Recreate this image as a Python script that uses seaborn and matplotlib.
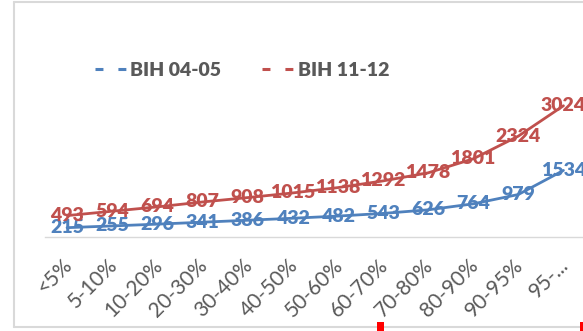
import matplotlib
matplotlib.use("Agg")
import matplotlib.pyplot as plt
import matplotlib.transforms as mtransforms
import seaborn as sns
import pandas as pd
from matplotlib.lines import Line2D
from matplotlib.patches import Rectangle

categories = ["<5%", "5-10%", "10-20%", "20-30%", "30-40%", "40-50%", "50-60%",
              "60-70%", "70-80%", "80-90%", "90-95%", "95-..."]
bih_04_05 = [215, 255, 296, 341, 386, 432, 482, 543, 626, 764, 979, 1534]
bih_11_12 = [493, 594, 694, 807, 908, 1015, 1138, 1292, 1478, 1801, 2324, 3024]
series_names = ["BIH 04-05", "BIH 11-12"]
colors = ["#4F81BD", "#C0504D"]

sns.set_theme(style="white")
plt.rcParams["font.family"] = ["Lato", "DejaVu Sans"]

df = pd.DataFrame({
    "cat": categories * 2,
    "x": list(range(len(categories))) * 2,
    "value": bih_04_05 + bih_11_12,
    "series": [series_names[0]] * len(categories) + [series_names[1]] * len(categories),
})

W, H = 583, 331
fig = plt.figure(figsize=(W / 100, H / 100), dpi=100)
# plot area in pixels: x from 44.5 to 586, baseline at y=237
left, right = 44.5, 586.0
base_y, top_y = 237.0, 63.4
ax = fig.add_axes([left / W, (H - base_y) / H, (right - left) / W, (base_y - top_y) / H])

sns.lineplot(data=df, x="x", y="value", hue="series", palette=colors,
             linewidth=2.0, legend=False, ax=ax, sort=False)

for vals, c in zip([bih_04_05, bih_11_12], colors):
    for i, v in enumerate(vals):
        ax.text(i, v, str(v), color=c, fontsize=14, fontweight="heavy",
                ha="center", va="center", zorder=5)

ax.set_xlim(-0.5, len(categories) - 0.5)
ax.set_ylim(0, 4000)
ax.set_yticks([])
ax.set_xticks(range(len(categories)))
ax.set_xticklabels(categories, rotation=45, ha="right", rotation_mode="anchor",
                   color="#595959", fontsize=15)
ax.tick_params(axis="x", length=0, pad=13)
shift = mtransforms.ScaledTranslation(-5 / 100, 0, fig.dpi_scale_trans)
for lab in ax.get_xticklabels():
    lab.set_transform(lab.get_transform() + shift)
ax.set_xlabel("")
ax.set_ylabel("")
for s in ["top", "right", "left"]:
    ax.spines[s].set_visible(False)
ax.spines["bottom"].set_color("#D9D9D9")
ax.spines["bottom"].set_linewidth(1.0)
ax.patch.set_alpha(0)

# legend with dashed keys
handles = [Line2D([0], [0], color=c, lw=2.2, dashes=(2.6, 4.9)) for c in colors]
fig.legend(handles, series_names, loc="center left", bbox_to_anchor=(77 / W, 1 - 70 / H),
           ncol=2, frameon=False, handlelength=1.6, handletextpad=0.25, columnspacing=2.1,
           prop={"family": "Lato", "weight": "heavy", "size": 14}, labelcolor="#595959")

# chart area border
border = dict(transform=fig.transFigure, color="#D9D9D9", lw=1.5)
fig.add_artist(Line2D([14 / W, 14 / W], [1 - 2 / H, 1 - 327 / H], **border))
fig.add_artist(Line2D([14 / W, 1.0], [1 - 2 / H, 1 - 2 / H], **border))
fig.add_artist(Line2D([14 / W, 1.0], [1 - 327 / H, 1 - 327 / H], **border))
# selection handles
for hx in [377, 580]:
    fig.add_artist(Rectangle((hx / W, 0), 7 / W, 9 / H, transform=fig.transFigure,
                             facecolor="#FF0000", edgecolor="none", zorder=10))

fig.savefig("out.png", dpi=100)
